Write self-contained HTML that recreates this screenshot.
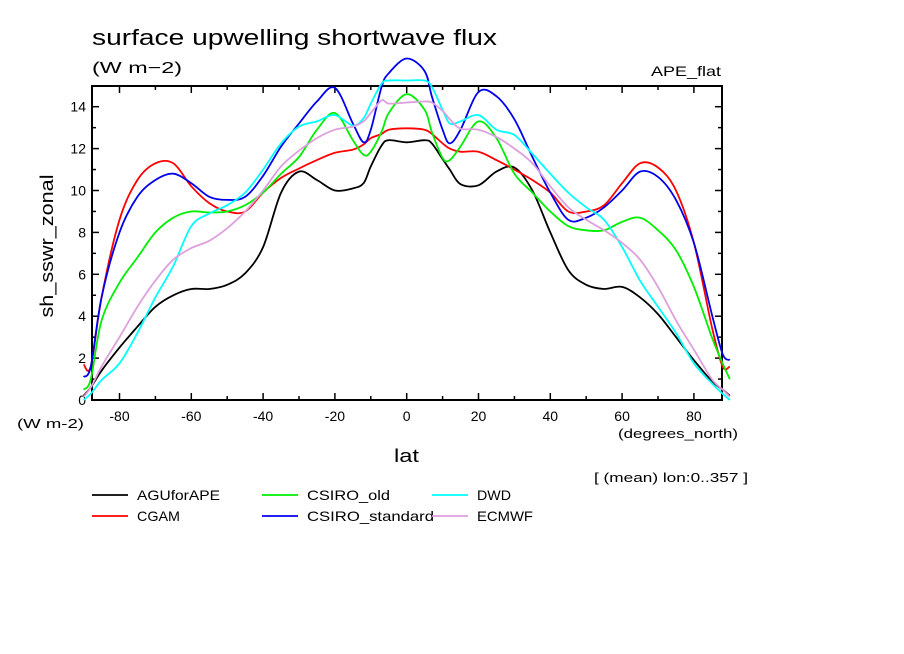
<!DOCTYPE html>
<html><head><meta charset="utf-8">
<style>
html,body{margin:0;padding:0;background:#fff;}
svg{display:block;font-family:"Liberation Sans",sans-serif;}
</style></head>
<body>
<svg id="chart" width="904" height="654" viewBox="0 0 904 654" xmlns="http://www.w3.org/2000/svg">
<rect x="0" y="0" width="904" height="654" fill="#fff"/>
<text x="92" y="45" font-size="22" textLength="405" lengthAdjust="spacingAndGlyphs">surface upwelling shortwave flux</text>
<text x="92" y="73" font-size="16" textLength="90" lengthAdjust="spacingAndGlyphs">(W m−2)</text>
<text x="651" y="76" font-size="14" textLength="70" lengthAdjust="spacingAndGlyphs">APE_flat</text>
<text x="0" y="0" font-size="18" text-anchor="middle" textLength="143" lengthAdjust="spacingAndGlyphs" transform="translate(53,246) rotate(-90)">sh_sswr_zonal</text>
<text x="17" y="428" font-size="13" textLength="67" lengthAdjust="spacingAndGlyphs">(W m-2)</text>
<text x="618" y="438" font-size="13" textLength="120" lengthAdjust="spacingAndGlyphs">(degrees_north)</text>
<text x="394" y="462" font-size="18" textLength="25" lengthAdjust="spacingAndGlyphs">lat</text>
<text x="594" y="482" font-size="13" textLength="154" lengthAdjust="spacingAndGlyphs">[ (mean) lon:0..357 ]</text>
<g id="axes"></g>
<g id="series"></g>
<g id="legend"></g>
</svg>
<script>
const lats = [-90,-88,-85,-80,-75,-70,-65,-60,-55,-50,-45,-40,-35,-30,-25,-20,-15,-12,-10,-7,-5,0,5,7,10,12,15,20,25,30,35,40,45,50,55,60,65,70,75,80,85,88,90];
const seriesNames = ["AGUforAPE","CGAM","CSIRO_old","CSIRO_standard","DWD","ECMWF"];
const aguValues = [0.2,0.6,1.4,2.5,3.5,4.45,5.0,5.3,5.3,5.5,6.05,7.3,9.9,10.9,10.5,10.0,10.1,10.35,11.15,12.15,12.4,12.3,12.4,12.25,11.5,11.0,10.3,10.25,10.9,11.1,10.0,8.0,6.2,5.5,5.3,5.4,4.9,4.1,3.0,1.9,0.9,0.5,0.2];
const cgamValues = [1.7,1.6,4.9,8.6,10.5,11.3,11.3,10.2,9.4,9.0,9.0,9.9,10.6,11.05,11.45,11.8,11.95,12.2,12.5,12.7,12.9,12.97,12.9,12.7,12.25,12.0,11.85,11.85,11.45,11.0,10.5,9.9,9.0,9.0,9.3,10.35,11.3,11.1,10.0,7.5,3.5,1.6,1.6];
const csiroOldValues = [0.5,1.0,3.8,5.6,6.8,8.0,8.7,9.0,8.95,9.0,9.3,9.9,10.8,11.6,12.9,13.7,12.4,11.7,11.85,12.8,13.7,14.6,13.85,12.8,11.55,11.45,12.1,13.3,12.5,10.8,9.9,9.0,8.3,8.1,8.1,8.5,8.7,8.1,7.15,5.4,3.0,1.75,1.0];
const csiroStdValues = [1.1,1.6,4.9,8.0,9.7,10.5,10.8,10.35,9.7,9.55,9.7,10.7,12.1,13.2,14.25,14.9,13.2,12.3,12.9,14.95,15.6,16.3,15.7,14.5,12.9,12.25,12.9,14.7,14.5,13.4,11.6,9.9,8.6,8.7,9.2,10.0,10.9,10.65,9.55,7.5,4.1,2.2,1.9];
const dwdValues = [0.0,0.3,0.95,1.75,3.2,4.9,6.4,8.3,8.9,9.3,9.9,11.0,12.25,13.05,13.3,13.6,13.1,13.45,14.15,15.1,15.25,15.25,15.25,14.95,13.85,13.2,13.3,13.6,12.9,12.65,11.75,10.8,9.9,9.2,8.6,7.3,5.7,4.45,3.2,1.75,0.8,0.3,0.0];
const ecmwfValues = [0.15,0.6,1.6,3.0,4.45,5.7,6.7,7.25,7.6,8.2,9.0,10.0,11.15,11.9,12.5,12.9,13.05,13.3,13.7,14.3,14.15,14.2,14.25,14.2,13.8,13.4,12.95,12.9,12.55,12.0,11.3,10.2,9.2,8.6,8.1,7.5,6.7,5.4,3.8,2.4,1.0,0.5,0.15];
const xTickLabels = [-80,-60,-40,-20,0,20,40,60,80];
const yTickLabels = [0,2,4,6,8,10,12,14];

const colors = ["#000000","#ff0000","#00ee00","#0000ee","#00ffff","#dda0dd"];
const legendWidths = [83,43,83,127,34,56];
const allValues = [aguValues,cgamValues,csiroOldValues,csiroStdValues,dwdValues,ecmwfValues];
const NS = "http://www.w3.org/2000/svg";
const frame = {l:92, r:722, t:86, b:400};
function xScale(lat){ return 406.7 + 3.59*lat; }
function yScale(v){ return 400 - 20.95*v; }
function mk(tag, attrs, parent){ const e=document.createElementNS(NS,tag); for(const k in attrs) e.setAttribute(k,attrs[k]); parent.appendChild(e); return e; }

const axes = document.getElementById("axes");
const fr = mk("rect",{x:frame.l,y:frame.t,width:frame.r-frame.l,height:frame.b-frame.t,fill:"none",stroke:"#000","stroke-width":2},axes);


for(let lat=-80; lat<=80; lat+=10){
  const x=xScale(lat); const major = lat%20===0; const len = major?7:4;
  const t1 = mk("line",{x1:x,x2:x,y1:frame.b,y2:frame.b-len,stroke:"#000","stroke-width":1.5},axes);
  
  
  mk("line",{x1:x,x2:x,y1:frame.t,y2:frame.t+len,stroke:"#000","stroke-width":1.5},axes);
}
xTickLabels.forEach(v=>{
  const t = mk("text",{x:xScale(v),y:421,"font-size":14,"text-anchor":"middle"},axes);
  t.textContent = v;
  
  
});
for(let v=0; v<=14; v+=1){
  const y=yScale(v); const major=v%2===0; const len=major?7:4;
  const t1 = mk("line",{x1:frame.l,x2:frame.l+len,y1:y,y2:y,stroke:"#000","stroke-width":1.5},axes);
  
  
  mk("line",{x1:frame.r,x2:frame.r-len,y1:y,y2:y,stroke:"#000","stroke-width":1.5},axes);
}
yTickLabels.forEach(v=>{
  const t = mk("text",{x:86,y:yScale(v)+5,"font-size":14,"text-anchor":"end"},axes);
  t.textContent = v;
  
  
});

function smoothPath(xs, ys){
  let d = "M"+xs[0].toFixed(1)+","+ys[0].toFixed(1);
  for(let i=0;i<xs.length-1;i++){
    const x0=xs[Math.max(i-1,0)], y0=ys[Math.max(i-1,0)];
    const x1=xs[i], y1=ys[i], x2=xs[i+1], y2=ys[i+1];
    const x3=xs[Math.min(i+2,xs.length-1)], y3=ys[Math.min(i+2,xs.length-1)];
    const k=1/6;
    const c1x=x1+(x2-x0)*k, c1y=y1+(y2-y0)*k;
    const c2x=x2-(x3-x1)*k, c2y=y2-(y3-y1)*k;
    d += " C"+c1x.toFixed(1)+","+c1y.toFixed(1)+" "+c2x.toFixed(1)+","+c2y.toFixed(1)+" "+x2.toFixed(1)+","+y2.toFixed(1);
  }
  return d;
}
const sg = document.getElementById("series");
allValues.forEach((vals, i)=>{
  const p = mk("path",{d:smoothPath(lats.map(xScale), vals.map(yScale)),fill:"none",stroke:colors[i],"stroke-width":1.8,"stroke-linejoin":"round"},sg);
  
  
});

const lg = document.getElementById("legend");
const legendPos = [[92,495],[92,516],[262,495],[262,516],[432,495],[432,516]];
seriesNames.forEach((n,i)=>{
  const [x,y] = legendPos[i];
  const g = mk("g",{},lg);
  
  
  mk("line",{x1:x,x2:x+36,y1:y,y2:y,stroke:colors[i],"stroke-width":1.8},g);
  const t = mk("text",{x:x+45,y:y+5,"font-size":14,textLength:legendWidths[i],lengthAdjust:"spacingAndGlyphs"},g);
  t.textContent = n;
});
</script>
</body></html>
